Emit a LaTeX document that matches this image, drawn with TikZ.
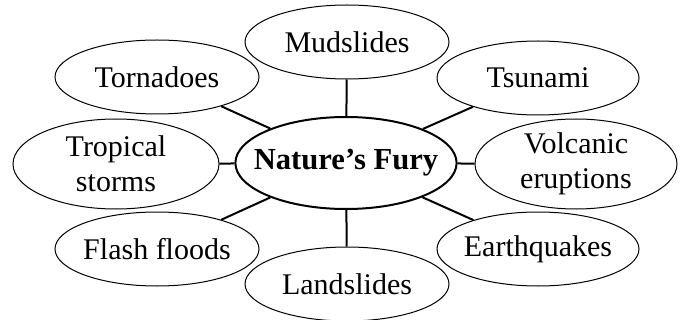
\documentclass[tikz,border=0pt]{standalone}
\usepackage{fontspec}
\setmainfont{Liberation Serif}
\usetikzlibrary{shapes.geometric}

\tikzset{
    hazard/.style={shape=ellipse,draw=black,line width=0.5pt,
        inner xsep=-5pt,inner ysep=-2pt,
        minimum width=102pt,minimum height=37pt,align=center,
        font=\fontsize{15}{17.5}\selectfont},
    tallhazard/.style={hazard,minimum height=45pt},
    hub/.style={shape=ellipse,draw=black,line width=1pt,
        inner xsep=-7pt,inner ysep=-2pt,
        minimum width=106pt,minimum height=46pt,
        font=\fontsize{15.3}{17.5}\selectfont\bfseries},
    spoke/.style={line width=1pt}
}

\begin{document}
\begin{tikzpicture}[x=0.5pt,y=-0.5pt]
    \useasboundingbox (0,0) rectangle (684,320);
    % Define nodes
    \node[hub] (fury) at (346,163) {Nature’s Fury};
    \node[hazard] (mud) at (347,42) {Mudslides};
    \node[hazard] (tornado) at (157,77) {Tornadoes};
    \node[hazard,minimum width=101pt] (tsunami) at (538,78) {Tsunami};
    \node[tallhazard,minimum width=103pt] (storm) at (116,164) {Tropical\\storms};
    \node[tallhazard,minimum width=101pt] (volcano) at (576,164) {Volcanic\\eruptions};
    \node[hazard] (flood) at (157,249) {Flash floods};
    \node[hazard,minimum width=101pt] (quake) at (538,249) {Earthquakes};
    \node[hazard] (land) at (347,284) {Landslides};
    % Draw edges
    \draw[spoke] (fury) -- (mud);
    \draw[spoke] (fury) -- (tornado);
    \draw[spoke] (fury) -- (tsunami);
    \draw[spoke] (fury) -- (storm);
    \draw[spoke] (fury) -- (volcano);
    \draw[spoke] (fury) -- (flood);
    \draw[spoke] (fury) -- (quake);
    \draw[spoke] (fury) -- (land);

\end{tikzpicture}
\end{document}
